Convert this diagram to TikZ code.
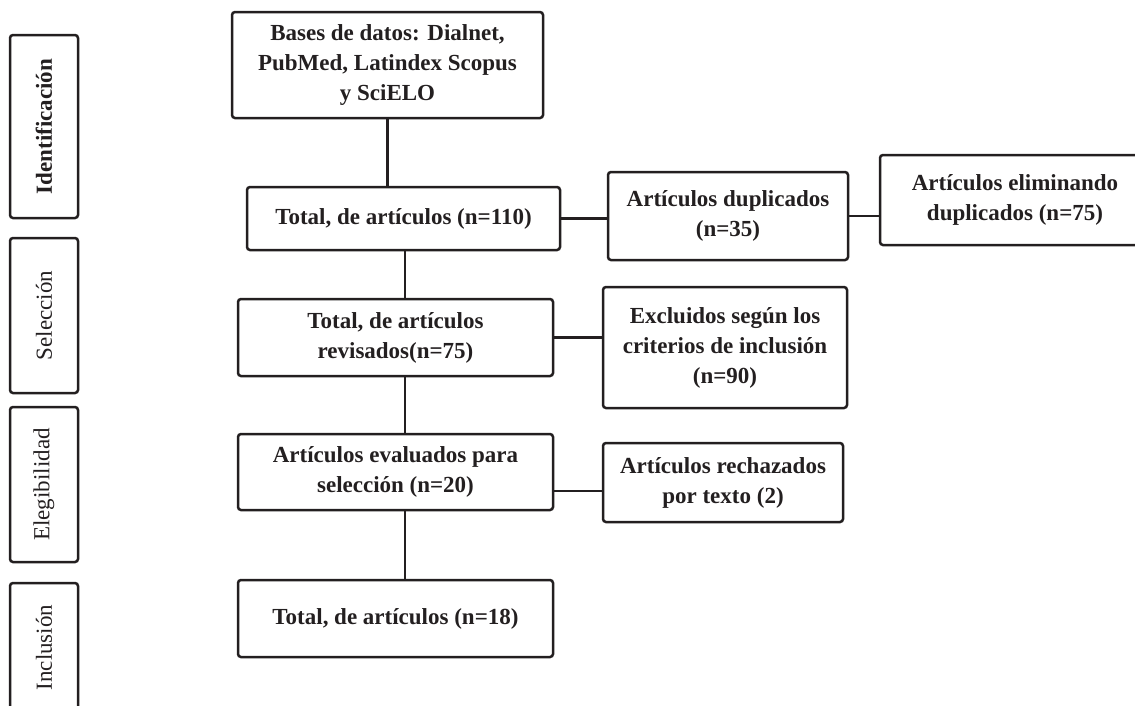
\documentclass[tikz,border=0pt]{standalone}
\usepackage{fontspec}
\setmainfont{Liberation Serif}
\usepackage{tikz}
\definecolor{ink}{HTML}{231F20}
\tikzset{
  flowbox/.style={draw=ink, text=ink, line width=2.5pt, rounded corners=3pt, align=center, inner sep=0pt, font=\bfseries\fontsize{23}{30}\selectfont},
  phasebox/.style={draw=ink, text=ink, line width=2.5pt, rounded corners=3pt, rotate=90, inner sep=0pt, minimum height=68pt, font=\fontsize{23}{30}\selectfont},
  link/.style={draw=ink, line width=2.5pt}
}

\begin{document}
\begin{tikzpicture}[x=1pt,y=-1pt]
\useasboundingbox (0,0) rectangle (1135,705);
% fases
\node[phasebox, minimum width=183pt, font=\bfseries\fontsize{23}{30}\selectfont] (ident) at (44,126.5) {Identificación};
\node[phasebox, minimum width=155pt] (selec) at (44,315.5) {Selección};
\node[phasebox, minimum width=155pt] (elegi) at (44,484.5) {Elegibilidad};
\node[phasebox, minimum width=129pt] (inclu) at (44,647.5) {Inclusión};
% diagrama
\node[flowbox, minimum width=311pt, minimum height=106pt] (bases) at (387.5,65) {Bases de datos: Dialnet,\\ PubMed, Latindex Scopus\\ y SciELO};
\node[flowbox, minimum width=313pt, minimum height=63pt] (total1) at (403.5,218.5) {Total, de artículos (n=110)};
\node[flowbox, minimum width=240pt, minimum height=88pt] (dup) at (728,216) {Artículos duplicados\\ (n=35)};
\node[flowbox, minimum width=270pt, minimum height=90pt] (elim) at (1015,200) {Artículos eliminando\\ duplicados (n=75)};
\node[flowbox, minimum width=315pt, minimum height=77pt] (rev) at (395.5,337.5) {Total, de artículos\\ revisados(n=75)};
\node[flowbox, minimum width=244pt, minimum height=121pt] (excl) at (725,347.5) {Excluidos según los\\ criterios de inclusión\\ (n=90)};
\node[flowbox, minimum width=315pt, minimum height=76pt] (eval) at (395.5,472) {Artículos evaluados para\\ selección (n=20)};
\node[flowbox, minimum width=240pt, minimum height=79pt] (rech) at (723,482.5) {Artículos rechazados\\ por texto (2)};
\node[flowbox, minimum width=315pt, minimum height=77pt] (final) at (395.5,618.5) {Total, de artículos (n=18)};
% lineas
\coordinate (spine) at (405,0);
\coordinate (c4) at ([yshift=-19pt]eval.east);
\draw[link] (bases.south) -- (bases.south |- total1.north);
\draw[link] (total1.south -| spine) -- (rev.north -| spine);
\draw[link] (rev.south -| spine) -- (eval.north -| spine);
\draw[link] (eval.south -| spine) -- (final.north -| spine);
\draw[link] (total1.east) -- (total1.east -| dup.west);
\draw[link] (dup.east) -- (dup.east -| elim.west);
\draw[link] (rev.east) -- (rev.east -| excl.west);
\draw[link] (c4) -- (c4 -| rech.west);
\end{tikzpicture}
\end{document}
